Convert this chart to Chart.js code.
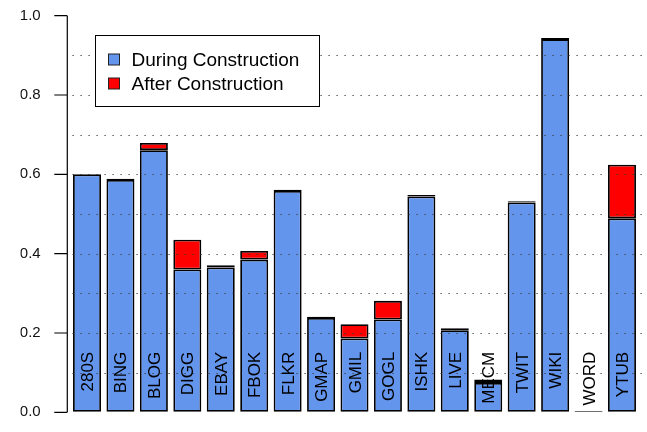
<!DOCTYPE html>
<html>
<head>
<meta charset="utf-8">
<script src="https://cdn.jsdelivr.net/npm/chart.js@4"></script>
<style>
html,body{margin:0;padding:0;background:#fff;}
#wrap{width:647px;height:432px;position:relative;}
</style>
</head>
<body>
<div id="wrap"><canvas id="c" width="647" height="432"></canvas></div>
<script>
const categories = ['280S','BING','BLOG','DIGG','EBAY','FBOK','FLKR','GMAP','GMIL','GOGL','ISHK','LIVE','MECM','TWIT','WIKI','WORD','YTUB'];
const duringValues = [0.600,0.586,0.661,0.360,0.365,0.385,0.558,0.238,0.186,0.234,0.544,0.207,0.074,0.529,0.941,0.003,0.489];
const afterValues  = [0.000,0.003,0.018,0.075,0.006,0.022,0.003,0.003,0.036,0.047,0.004,0.005,0.009,0.003,0.003,0.000,0.135];
const seriesNames = ['During Construction','After Construction'];
const seriesColors = ['#6495ED','#FF0000'];
const tickLabels = ['0.0','0.2','0.4','0.6','0.8','1.0'];
const tickValues = [0,0.2,0.4,0.6,0.8,1.0];
const gridLevels = [0.1,0.2,0.3,0.4,0.5,0.6,0.7,0.8,0.9];

const FONT = '"Liberation Sans", Arial, Helvetica, sans-serif';

const overlay = {
  id: 'overlay',
  afterDatasetsDraw(chart) {
    const ctx = chart.ctx;
    const ya = chart.scales.y, xa = chart.scales.x;
    const ca = chart.chartArea;
    ctx.save();
    // dotted grid lines over bars
    ctx.strokeStyle = '#333';
    ctx.lineWidth = 1;
    ctx.setLineDash([1.2, 6.8]);
    gridLevels.forEach(v => {
      const y = Math.round(ya.getPixelForValue(v)) + 0.5;
      ctx.beginPath();
      ctx.moveTo(72.5, y);
      ctx.lineTo(chart.width, y);
      ctx.stroke();
    });
    ctx.setLineDash([]);
    // y axis line + ticks
    ctx.strokeStyle = '#000';
    ctx.lineWidth = 1.2;
    const ax = ca.left - 3;
    ctx.beginPath();
    ctx.moveTo(ax, ya.getPixelForValue(1.0));
    ctx.lineTo(ax, ya.getPixelForValue(0));
    tickValues.forEach(v => {
      const y = ya.getPixelForValue(v);
      ctx.moveTo(ax - 13, y);
      ctx.lineTo(ax, y);
    });
    ctx.stroke();
    // category labels inside bars (rotated)
    ctx.fillStyle = '#000';
    ctx.font = '17px ' + FONT;
    ctx.textAlign = 'right';
    ctx.textBaseline = 'alphabetic';
    const yEnd = ya.getPixelForValue(0) - 60.5;
    categories.forEach((c, i) => {
      const x = xa.getPixelForValue(i) + 6;
      ctx.save();
      ctx.translate(x, yEnd);
      ctx.rotate(-Math.PI / 2);
      ctx.fillText(c, 0, 0);
      ctx.restore();
    });
    // legend
    const lx = 95.5, ly = 35.5, lw = 224, lh = 71;
    ctx.fillStyle = '#fff';
    ctx.fillRect(lx, ly, lw, lh);
    ctx.strokeStyle = '#000';
    ctx.lineWidth = 1;
    ctx.strokeRect(lx, ly, lw, lh);
    ctx.font = '19px ' + FONT;
    ctx.textAlign = 'left';
    ctx.textBaseline = 'middle';
    chart.data.datasets.forEach((ds, i) => {
      const cy = 59.5 + i * 24;
      ctx.fillStyle = ds.backgroundColor;
      ctx.fillRect(108.5, cy - 5.5, 11, 11);
      ctx.strokeStyle = '#222';
      ctx.strokeRect(108.5, cy - 5.5, 11, 11);
      ctx.fillStyle = '#000';
      ctx.fillText(ds.label, 131.5, cy + 1);
    });
    ctx.restore();
  }
};

new Chart(document.getElementById('c'), {
  type: 'bar',
  data: {
    labels: categories,
    datasets: [
      { label: seriesNames[0], data: duringValues, backgroundColor: seriesColors[0], borderColor: '#000', borderWidth: 1.8, borderSkipped: false },
      { label: seriesNames[1], data: afterValues, backgroundColor: seriesColors[1], borderColor: '#000', borderWidth: 1.8, borderSkipped: false }
    ]
  },
  options: {
    responsive: false,
    animation: false,
    devicePixelRatio: 1,
    layout: { padding: { left: 20.3, right: 8.3, top: 15.7, bottom: 19.7 } },
    datasets: { bar: { barPercentage: 0.837, categoryPercentage: 1.0 } },
    plugins: { legend: { display: false }, tooltip: { enabled: false } },
    scales: {
      x: { stacked: true, display: false, offset: true },
      y: {
        stacked: true, min: 0, max: 1,
        afterFit: s => { s.width = 50; },
        border: { display: false },
        grid: { display: true, drawOnChartArea: false, drawTicks: true, tickLength: 26.6, color: 'rgba(0,0,0,0)' },
        afterBuildTicks: s => { s.ticks = tickValues.map(v => ({ value: v })); },
        ticks: {
          padding: 3,
          color: '#111',
          font: { family: FONT, size: 15 },
          callback: (v, i) => tickLabels[i]
        }
      }
    }
  },
  plugins: [overlay]
});
</script>
</body>
</html>
